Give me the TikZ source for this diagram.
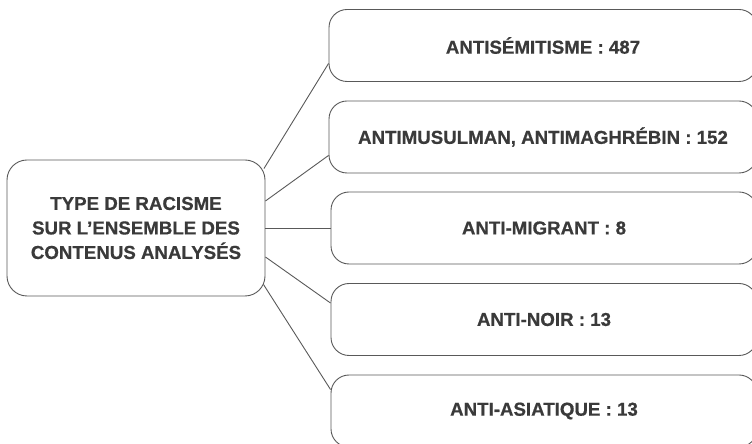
\documentclass[tikz,border=0pt]{standalone}
\usepackage{fontspec}
\setmainfont{Liberation Sans}[BoldFeatures={FakeBold=0.6}]
\definecolor{txt}{HTML}{3A3A3A}
\definecolor{edge}{HTML}{595959}
\tikzset{
  box/.style={draw=edge, line width=0.9pt, rounded corners=18pt, fill=white,
    align=center, text=txt, font=\fontsize{18.7}{24.5}\selectfont\bfseries,
    inner sep=0pt},
  mainbox/.style={box, rounded corners=20pt, minimum width=258pt, minimum height=136pt},
  catbox/.style={box, minimum height=72pt},
  link/.style={draw=edge, line width=0.9pt}
}
\begin{document}
\begin{tikzpicture}[x=1pt,y=1pt]
\useasboundingbox (0,0) rectangle (752,444);
\clip (0,0) rectangle (752,444);
\node[mainbox] (L) at (136,216) {TYPE DE RACISME\\SUR L’ENSEMBLE DES\\CONTENUS ANALYSÉS};
\node[catbox, minimum width=428pt] (B1) at (543,398.5) {ANTISÉMITISME : 487};
\node[catbox, minimum width=428pt] (B2) at (543,307) {ANTIMUSULMAN, ANTIMAGHRÉBIN : 152};
\node[catbox, minimum width=426pt] (B3) at (544,216) {ANTI-MIGRANT : 8};
\node[catbox, minimum width=426pt] (B4) at (544,124.5) {ANTI-NOIR : 13};
\node[catbox, minimum width=426pt] (B5) at (544,33) {ANTI-ASIATIQUE : 13};
\draw[link] ([xshift=-1.5pt,yshift=-9pt]L.north east) -- ([yshift=18.5pt]B1.south west);
\draw[link] ([yshift=27pt]L.east) -- ([yshift=18pt]B2.south west);
\draw[link] (L.east) -- (B3.west);
\draw[link] ([yshift=-29pt]L.east) -- ([yshift=-20pt]B4.north west);
\draw[link] ([xshift=-2pt,yshift=12pt]L.south east) -- ([yshift=-15pt]B5.north west);
\end{tikzpicture}
\end{document}
